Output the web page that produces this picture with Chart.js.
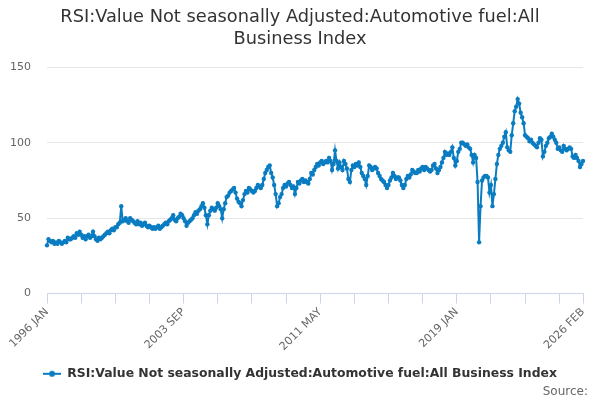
<!DOCTYPE html>
<html>
<head>
<meta charset="utf-8">
<script src="https://cdn.jsdelivr.net/npm/chart.js@4.4.1/dist/chart.umd.min.js"></script>
<style>
html,body{margin:0;padding:0;background:#fff;}
#wrap{width:600px;height:400px;position:relative;}
</style>
</head>
<body>
<div id="wrap"><canvas id="c"></canvas></div>
<script>
const titleLines = ["RSI:Value Not seasonally Adjusted:Automotive fuel:All", "Business Index"];
const seriesName = "RSI:Value Not seasonally Adjusted:Automotive fuel:All Business Index";
const sourceText = "Source:";
const monthNames = ["JAN","FEB","MAR","APR","MAY","JUN","JUL","AUG","SEP","OCT","NOV","DEC"];
const startYear = 1996;
const labelIndices = [0, 92, 184, 276, 361];
const tickStep = 23;
const yTicks = [0, 50, 100, 150];

const values = [
  // 1996
  32, 36, 35, 34, 35, 33, 34, 33, 35, 34, 33, 34,
  // 1997
  35, 34, 37, 36, 36, 37, 38, 37, 40, 39, 41, 39,
  // 1998
  37, 38, 36, 38, 39, 37, 38, 41, 38, 36, 35, 37,
  // 1999
  36, 37, 38, 39, 40, 41, 40, 42, 43, 42, 44, 44,
  // 2000
  46, 47, 58, 48, 49, 50, 48, 47, 50, 49, 48, 47,
  // 2001
  46, 48, 46, 47, 45, 46, 47, 45, 44, 45, 44, 43,
  // 2002
  44, 43, 44, 45, 43, 44, 45, 46, 47, 46, 48, 49,
  // 2003
  50, 52, 49, 48, 50, 51, 53, 52, 50, 48, 45, 47,
  // 2004
  48, 49, 50, 52, 54, 53, 55, 56, 58, 60, 57, 52,
  // 2005
  46, 52, 55, 57, 56, 55, 57, 60, 58, 56, 50, 56,
  // 2006
  60, 64, 65, 67, 68, 69, 70, 67, 63, 61, 60, 58,
  // 2007
  62, 66, 68, 67, 70, 69, 68, 67, 68, 70, 72, 71,
  // 2008
  70, 72, 76, 80, 82, 84, 85, 80, 77, 72, 66, 58,
  // 2009
  60, 64, 66, 70, 72, 71, 73, 74, 72, 70, 71, 66,
  // 2010
  70, 74, 73, 75, 76, 74, 75, 74, 73, 76, 80, 79,
  // 2011
  82, 84, 86, 85, 87, 88, 86, 87, 88, 87, 90, 88,
  // 2012
  82, 86, 95, 88, 83, 87, 84, 82, 88, 86, 83, 76,
  // 2013
  74, 82, 85, 84, 86, 85, 87, 84, 80, 78, 76, 72,
  // 2014
  78, 85, 84, 82, 83, 84, 83, 80, 78, 76, 75, 74,
  // 2015
  72, 70, 72, 75, 77, 80, 78, 76, 77, 77, 75, 72,
  // 2016
  70, 72, 76, 78, 77, 79, 82, 81, 80, 80, 82, 81,
  // 2017
  83, 84, 82, 84, 83, 82, 81, 82, 85, 86, 83, 80,
  // 2018
  82, 84, 87, 90, 94, 92, 93, 92, 94, 97, 90, 85,
  // 2019
  88, 94, 96, 100, 100, 99, 98, 99, 97, 96, 92, 87,
  // 2020
  92, 90, 74, 34, 58, 75, 77, 78, 78, 77, 67, 72,
  // 2021
  58, 66, 76, 86, 92, 96, 98, 100, 104, 107, 97, 95,
  // 2022
  94, 105, 113, 121, 124, 129, 126, 120, 117, 113, 105, 104,
  // 2023
  103, 101, 102, 100, 99, 98, 97, 100, 103, 102, 91, 94,
  // 2024
  98, 100, 103, 104, 106, 104, 102, 100, 96, 97, 95, 94,
  // 2025
  98, 96, 95, 96, 97, 96, 91, 90, 92, 90, 88, 84,
  // 2026
  86, 88
];

const categories = values.map((v, i) => (startYear + Math.floor(i / 12)) + " " + monthNames[i % 12]);
const lastIdx = categories.length - 1;

const lineColor = '#0a7cc1';

// legend symbol: line with a dot
const sym = document.createElement('canvas');
sym.width = 18; sym.height = 10;
(function(){
  const g = sym.getContext('2d');
  g.strokeStyle = lineColor; g.lineWidth = 2;
  g.beginPath(); g.moveTo(0, 5); g.lineTo(18, 5); g.stroke();
  g.fillStyle = lineColor;
  g.beginPath(); g.arc(9, 5, 3, 0, Math.PI * 2); g.fill();
})();

const FONT = "'DejaVu Sans', sans-serif";

const sourcePlugin = {
  id: 'sourceText',
  afterDraw(chart) {
    const ctx = chart.ctx;
    ctx.save();
    ctx.font = "12px " + FONT;
    ctx.fillStyle = '#666666';
    ctx.textAlign = 'right';
    ctx.textBaseline = 'middle';
    ctx.fillText(sourceText, 588, 392);
    ctx.restore();
  }
};

new Chart(document.getElementById('c'), {
  type: 'line',
  data: {
    labels: categories,
    datasets: [{
      label: seriesName,
      data: values,
      borderColor: lineColor,
      backgroundColor: lineColor,
      borderWidth: 2,
      pointRadius: 2.2,
      pointHoverRadius: 3,
      pointBorderWidth: 0,
      pointBackgroundColor: lineColor,
      tension: 0,
      fill: false
    }]
  },
  plugins: [sourcePlugin],
  options: {
    responsive: true,
    maintainAspectRatio: false,
    animation: false,
    devicePixelRatio: 1,
    layout: { padding: { left: 0, right: 0, top: 0, bottom: 10 } },
    plugins: {
      title: {
        display: true,
        text: titleLines,
        color: '#333333',
        font: { family: FONT, size: 17.8, weight: 'normal', lineHeight: 1.22 },
        padding: { top: 7, bottom: 17 }
      },
      legend: {
        display: true,
        position: 'bottom',
        labels: {
          usePointStyle: true,
          pointStyle: sym,
          pointStyleWidth: 18,
          color: '#333333',
          font: { family: FONT, size: 12.4, weight: 'bold' },
          padding: 4,
          generateLabels: (chart) => [{
            text: seriesName,
            fillStyle: lineColor,
            strokeStyle: lineColor,
            lineWidth: 0,
            pointStyle: sym,
            hidden: false,
            datasetIndex: 0,
            fontColor: '#333333'
          }]
        }
      },
      tooltip: { enabled: false }
    },
    scales: {
      x: {
        type: 'category',
        offset: false,
        afterFit: (s) => { s.height = 70; s.paddingRight = 17; },
        grid: {
          display: true,
          drawOnChartArea: false,
          drawTicks: true,
          tickLength: 10,
          color: '#ccd6eb',
          lineWidth: 1
        },
        border: { display: true, color: '#ccd6eb', width: 1 },
        ticks: {
          autoSkip: false,
          maxRotation: 45,
          minRotation: 45,
          color: '#666666',
          font: { family: FONT, size: 11 },
          padding: 2,
          callback: function(val, idx) {
            if (labelIndices.includes(idx)) return categories[idx];
            if (idx % tickStep === 0 || idx === lastIdx) return '';
            return null;
          }
        }
      },
      y: {
        min: 0,
        max: 150,
        afterBuildTicks: (s) => { s.ticks = yTicks.map(v => ({ value: v })); },
        afterFit: (s) => { s.width = 47; },
        grid: { color: '#e6e6e6', drawTicks: false, lineWidth: 1 },
        border: { display: false },
        ticks: {
          color: '#666666',
          font: { family: FONT, size: 11 },
          padding: 16
        }
      }
    }
  }
});
</script>
</body>
</html>
